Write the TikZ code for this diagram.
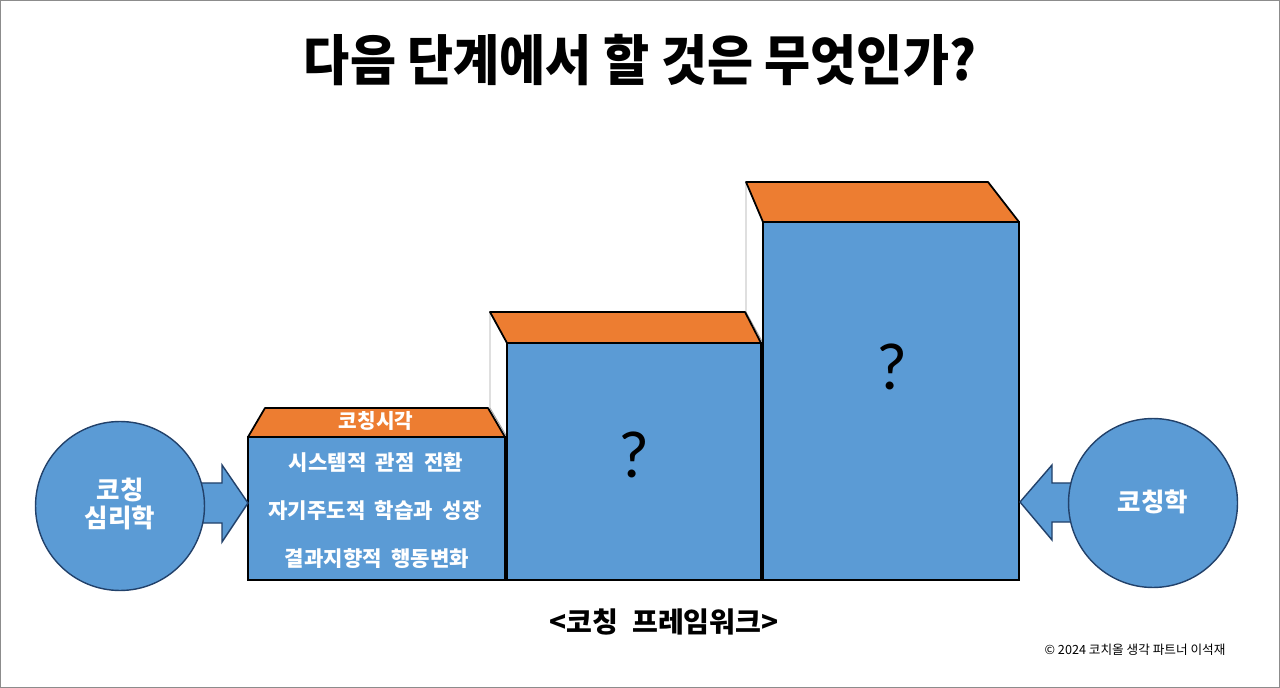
\documentclass[tikz,border=0pt]{standalone}
\usepackage{fontspec}
\setmainfont{Noto Sans CJK KR}
\newfontfamily\qfont{Carlito}
\definecolor{boxblue}{HTML}{5B9BD5}
\definecolor{boxorange}{HTML}{ED7D31}
\definecolor{circline}{HTML}{22416A}
\definecolor{framegray}{HTML}{8C8C8C}
\tikzset{
  frontface/.style={fill=boxblue, draw=black, line width=1.2pt},
  topface/.style={fill=boxorange, draw=black, line width=1pt, line join=round},
  sideface/.style={fill=white, draw=gray!70, line width=0.5pt, line join=round},
  blockarrow/.style={fill=boxblue, draw=circline, line width=0.8pt, line join=miter},
  bubble/.style={circle, fill=boxblue, draw=circline, line width=0.8pt, inner sep=0pt, minimum size=3.38cm},
  whitetxt/.style={text=white, font=\bfseries\fontsize{12pt}{13pt}\selectfont, inner sep=0pt},
  qmark/.style={font=\qfont\fontsize{38pt}{40pt}\selectfont, inner sep=0pt},
}
\begin{document}
\begin{tikzpicture}[x=0.02cm, y=-0.02cm]
\useasboundingbox (0,0) rectangle (1280,688);
\fill[white] (0,0) rectangle (1280,688);
\draw[framegray, line width=0.6pt] (0.5,0.5) rectangle (1279.5,687.5);

% title
\node[inner sep=0pt] (title) at (640,60) {\scalebox{0.92}[1]{\bfseries\fontsize{31pt}{34pt}\selectfont 다음 단계에서 할 것은 무엇인가?}};

% side faces
\path[sideface] (746,182) -- (763,222) -- (763,343) -- (746,312) -- cycle;
\path[sideface] (490,312) -- (507,343) -- (507,437) -- (490,408) -- cycle;

% box 2
\path[topface] (507,343) -- (490,312) -- (745,312) -- (761,343) -- cycle;
\path[frontface] (507,343) rectangle (761,580);
% box 1
\path[topface] (248,437) -- (265,408) -- (488,408) -- (505,437) -- cycle;
\path[frontface] (248,437) rectangle (505,580);
% box 3
\path[topface] (763,222) -- (746,182) -- (988,182) -- (1019,222) -- cycle;
\path[frontface] (763,222) rectangle (1019,580);

% box texts
\node[whitetxt, font=\bfseries\fontsize{11.5pt}{12pt}\selectfont] (view) at (376,421) {코칭시각};
\node[whitetxt] (l1) at (376,463) {시스템적\hspace{0.45em}관점\hspace{0.45em}전환};
\node[whitetxt] (l2) at (375,511) {자기주도적\hspace{0.45em}학습과\hspace{0.45em}성장};
\node[whitetxt] (l3) at (377,559) {결과지향적\hspace{0.45em}행동변화};
\node[qmark] (q2) at (634,455) {?};
\node[qmark] (q3) at (892,367) {?};

% arrows
\path[blockarrow] (190,483) -- (222,483) -- (222,465) -- (248,503) -- (222,542) -- (222,523) -- (190,523) -- cycle;
\path[blockarrow] (1090,483) -- (1052,483) -- (1052,465) -- (1020,502) -- (1052,540) -- (1052,522) -- (1090,522) -- cycle;

% circles
\node[bubble] (psy) at (120,506) {};
\node[whitetxt, font=\bfseries\fontsize{14.5pt}{16.5pt}\selectfont, align=center] (psyt) at (120,504) {코칭\\심리학};
\node[bubble] (coach) at (1153,503) {};
\node[whitetxt, font=\bfseries\fontsize{14.5pt}{16pt}\selectfont] (coacht) at (1153,502) {코칭학};

% caption
\node[inner sep=0pt, font=\bfseries\fontsize{16pt}{17pt}\selectfont] (frame) at (664,622) {<코칭\hspace{0.5em}프레임워크>};
\node[inner sep=0pt, font=\fontsize{7.2pt}{8pt}\selectfont] (copy) at (1135,650) {© 2024 코치올 생각 파트너 이석재};
\end{tikzpicture}
\end{document}
